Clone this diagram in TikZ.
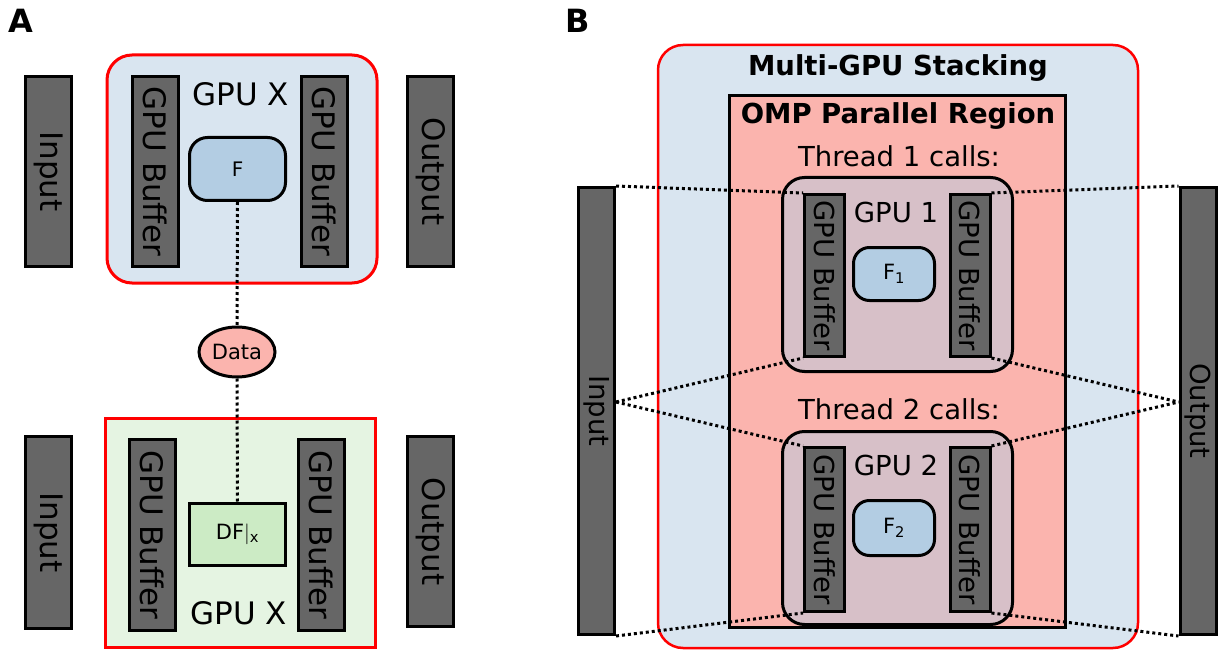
\documentclass[tikz,border=0pt]{standalone}
\usepackage{fontspec}
\setmainfont{DejaVu Sans}
\usetikzlibrary{shapes.geometric}
\definecolor{barfill}{HTML}{666666}
\definecolor{pblue}{HTML}{B3CDE3}
\definecolor{lblue}{HTML}{D9E5F0}
\definecolor{pred}{HTML}{FBB4AE}
\definecolor{pgreen}{HTML}{CCEBC5}
\definecolor{lgreen}{HTML}{E5F4E2}
\definecolor{mauve}{HTML}{D7C0C8}
\definecolor{redline}{HTML}{FF0000}
\tikzset{
  bar/.style={draw=black, line width=3pt, fill=barfill, inner sep=0pt},
  bartxt/.style={rotate=-90, inner sep=0pt},
  big/.style={font=\fontsize{31}{36}\selectfont},
  mid/.style={font=\fontsize{27.5}{32}\selectfont},
  midbold/.style={font=\fontsize{27.5}{32}\selectfont\bfseries},
  gpuA/.style={draw=redline, line width=3pt, inner sep=0pt},
  fbox/.style={draw=black, line width=3pt, fill=pblue, rounded corners=18pt, inner sep=0pt},
  conn/.style={line width=3pt, dash pattern=on 3pt off 3pt},
  panel/.style={font=\fontsize{32}{36}\selectfont\bfseries, inner sep=0pt},
}
\begin{document}
\begin{tikzpicture}[x=1pt,y=-1pt]
\useasboundingbox (0,0) rectangle (1219,650);
\fill[white] (0,0) rectangle (1219,650);

% ---------------- Panel A ----------------
\node[panel] (labA) at (21,21) {A};

% upper
\node[gpuA, fill=lblue, rounded corners=25pt, minimum width=270pt, minimum height=228pt] (gpuAu) at (242,169) {};
\node[bar, minimum width=46pt, minimum height=190pt, label={[bartxt,big]center:Input}] (inAu) at (48.5,171.5) {};
\node[bar, minimum width=46pt, minimum height=190pt, label={[bartxt,big]center:GPU Buffer}] (bufAuL) at (155.5,171.5) {};
\node[bar, minimum width=46pt, minimum height=190pt, label={[bartxt,big]center:GPU Buffer}] (bufAuR) at (324.5,171.5) {};
\node[bar, minimum width=46pt, minimum height=190pt, label={[bartxt,big]center:Output}] (outAu) at (430.5,171.5) {};
\node[big, inner sep=0pt] (gpuxu) at (241,94) {GPU X};
\node[fbox, minimum width=96pt, minimum height=63pt, font=\fontsize{20}{24}\selectfont] (F) at (237.5,169) {F};

\node[ellipse, draw=black, line width=3pt, fill=pred, minimum width=76pt, minimum height=50pt, inner sep=0pt, font=\fontsize{21}{24}\selectfont] (data) at (237,352) {Data};

% lower
\node[gpuA, fill=lgreen, minimum width=270pt, minimum height=229pt] (gpuAl) at (240,533) {};
\node[bar, minimum width=46pt, minimum height=192pt, label={[bartxt,big]center:Input}] (inAl) at (48.5,532.5) {};
\node[bar, minimum width=46pt, minimum height=191pt, label={[bartxt,big]center:GPU Buffer}] (bufAlL) at (152.5,535) {};
\node[bar, minimum width=46pt, minimum height=191pt, label={[bartxt,big]center:GPU Buffer}] (bufAlR) at (321.5,535) {};
\node[bar, minimum width=46pt, minimum height=190pt, label={[bartxt,big]center:Output}] (outAl) at (430.5,531.5) {};
\node[draw=black, line width=3pt, fill=pgreen, minimum width=96pt, minimum height=62pt, inner sep=0pt, font=\fontsize{21}{24}\selectfont] (DF) at (237.5,534.5) {DF$|$\textsubscript{x}};
\node[big, inner sep=0pt] (gpuxl) at (239,613) {GPU X};

\draw[conn] (F.south) -- (data.north);
\draw[conn] (data.south) -- (DF.north);

% ---------------- Panel B ----------------
\node[panel] (labB) at (578,21) {B};

\node[draw=redline, line width=2.5pt, fill=lblue, rounded corners=25pt, minimum width=480pt, minimum height=603pt, inner sep=0pt] (outer) at (898,346.5) {};
\node[midbold, inner sep=0pt] (mgs) at (898,68) {Multi-GPU Stacking};
\node[draw=black, line width=3.5pt, fill=pred, minimum width=336pt, minimum height=532pt, inner sep=0pt] (omp) at (897.5,361.5) {};
\node[midbold, inner sep=0pt] (ompt) at (898,116) {OMP Parallel Region};

\node[mid, inner sep=0pt] (t1) at (899,156) {Thread 1 calls:};
\node[draw=black, line width=3pt, fill=mauve, rounded corners=22pt, minimum width=230pt, minimum height=194pt, inner sep=0pt] (gpu1) at (897.5,274.5) {};
\node[bar, minimum width=40pt, minimum height=162pt, label={[bartxt,mid]center:GPU Buffer}] (b1L) at (824.5,275.5) {};
\node[bar, minimum width=40pt, minimum height=162pt, label={[bartxt,mid]center:GPU Buffer}] (b1R) at (970,275.5) {};
\node[mid, inner sep=0pt] (g1) at (896,212) {GPU 1};
\node[fbox, rounded corners=16pt, minimum width=81pt, minimum height=53pt, font=\fontsize{21}{24}\selectfont] (F1) at (894,274) {F\textsubscript{1}};

\node[mid, inner sep=0pt] (t2) at (899,409) {Thread 2 calls:};
\node[draw=black, line width=3pt, fill=mauve, rounded corners=22pt, minimum width=230pt, minimum height=193pt, inner sep=0pt] (gpu2) at (897.5,528) {};
\node[bar, minimum width=40pt, minimum height=164pt, label={[bartxt,mid]center:GPU Buffer}] (b2L) at (824.5,529.5) {};
\node[bar, minimum width=40pt, minimum height=164pt, label={[bartxt,mid]center:GPU Buffer}] (b2R) at (970,529.5) {};
\node[mid, inner sep=0pt] (g2) at (896,465) {GPU 2};
\node[fbox, rounded corners=16pt, minimum width=81pt, minimum height=55pt, font=\fontsize{21}{24}\selectfont] (F2) at (894,528) {F\textsubscript{2}};

\node[bar, minimum width=36pt, minimum height=447pt, label={[bartxt,mid]center:Input}] (inB) at (596.5,411) {};
\node[bar, minimum width=36pt, minimum height=447pt, label={[bartxt,mid]center:Output}] (outB) at (1198,411) {};

\draw[conn] (inB.north east) -- (b1L.north west);
\draw[conn] ([yshift=9pt]inB.east) -- (b1L.south west);
\draw[conn] ([yshift=9pt]inB.east) -- (b2L.north west);
\draw[conn] (inB.south east) -- (b2L.south west);
\draw[conn] (b1R.north east) -- (outB.north west);
\draw[conn] (b1R.south east) -- ([yshift=9pt]outB.west);
\draw[conn] (b2R.north east) -- ([yshift=9pt]outB.west);
\draw[conn] (b2R.south east) -- (outB.south west);
\end{tikzpicture}
\end{document}
